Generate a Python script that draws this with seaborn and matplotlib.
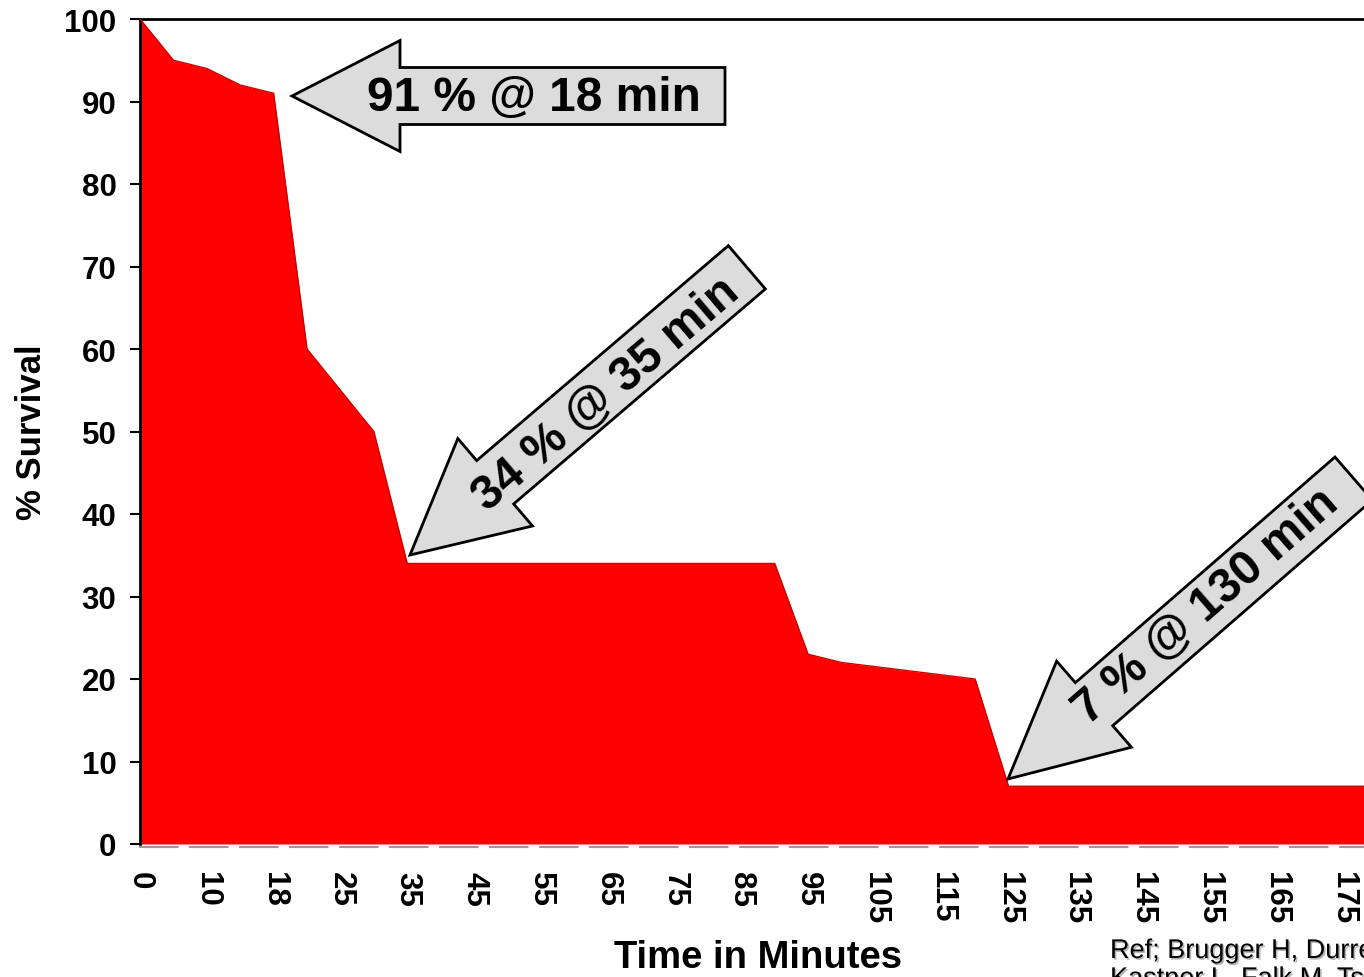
import numpy as np
import pandas as pd
import matplotlib
matplotlib.use("Agg")
import matplotlib.pyplot as plt
import matplotlib.patheffects as pe
from matplotlib.patches import Polygon
import seaborn as sns

# ---------------------------------------------- data ---------------------------------------------- #
time_minutes = [0, 5, 10, 15, 18, 20, 25, 30, 35, 40, 45, 50, 55, 60, 65, 70, 75, 80, 85, 90,
                95, 100, 105, 110, 115, 120, 125, 130, 135, 140, 145, 150, 155, 160, 165, 170,
                175, 180]
survival_pct = [100, 95, 94, 92, 91, 60, 55, 50, 34, 34, 34, 34, 34, 34, 34, 34, 34, 34, 34, 34,
                23, 22, 21.5, 21, 20.5, 20, 7, 7, 7, 7, 7, 7, 7, 7, 7, 7,
                7, 7]
callout_texts = ["91 % @ 18 min", "34 % @ 35 min", "7 % @ 130 min"]
ref_text = "Ref; Brugger H, Durrer B, Adler-\nKastner L, Falk M, Tschirky F."

df = pd.DataFrame({"pos": np.arange(len(time_minutes)), "minutes": time_minutes, "survival": survival_pct})

# ---------------------------------------------- plot ---------------------------------------------- #
sns.set_style("white")
plt.rcParams["font.family"] = ["Liberation Sans", "DejaVu Sans"]
plt.rcParams["text.color"] = "black"
plt.rcParams["axes.labelcolor"] = "black"
plt.rcParams["xtick.color"] = "black"
plt.rcParams["ytick.color"] = "black"

W, H = 1364, 978
fig = plt.figure(figsize=(W / 100, H / 100), dpi=100)
# axes runs a little past the right edge of the picture, like the cropped original
ax = fig.add_axes([140 / W, 1 - 845 / H, 1236 / W, 825 / H])

# spines first: set_position resets the ticks, so do it before styling tick labels
for side in ["left", "top"]:
    ax.spines[side].set_color("black")
    ax.spines[side].set_linewidth(2)
ax.spines["right"].set_visible(False)
ax.spines["bottom"].set_color("#9A9A9A")
ax.spines["bottom"].set_linewidth(1.5)
ax.spines["bottom"].set_linestyle((0, (18, 6)))
ax.spines["bottom"].set_position(("outward", 2.5))

ax.fill_between(df["pos"], df["survival"], 0, color="#FF0000", linewidth=0, zorder=2)
sns.lineplot(data=df, x="pos", y="survival", color="#D00000", linewidth=1.0, ax=ax, zorder=3)

ax.set_xlim(0, len(time_minutes) - 1)
ax.set_ylim(0, 100)
ax.set_yticks(range(0, 101, 10))
ax.set_xticks(list(df["pos"][::2]), [str(m) for m in time_minutes[::2]])
ax.tick_params(axis="x", length=0, pad=17)
ax.tick_params(axis="y", left=True, length=7, width=1.5, color="black", pad=10, direction="out")
for lab in ax.get_xticklabels():
    lab.set_fontsize(22.5)
    lab.set_fontweight("bold")
    lab.set_rotation(270)
    lab.set_color("black")
for lab in ax.get_yticklabels():
    lab.set_fontsize(22.5)
    lab.set_fontweight("bold")
    lab.set_color("black")

ax.set_xlabel("Time in Minutes", fontsize=27.5, fontweight="bold", color="black")
ax.xaxis.set_label_coords(0.5, -0.115)
ax.set_ylabel("% Survival", fontsize=25, fontweight="bold", labelpad=12, color="black")


# ------------------------------------------ callout arrows ---------------------------------------- #
def to_fig(x, y):
    return (x / W, 1 - y / H)


def arrow_shape(tip, angle, length, body_w, head_w, head_len):
    a = np.deg2rad(angle)
    u = np.array([np.cos(a), -np.sin(a)])  # along the arrow, in pixel coords (y down)
    v = np.array([np.sin(a), np.cos(a)])
    tip = np.array(tip, dtype=float)
    local = [(0, 0), (head_len, -head_w / 2), (head_len, -body_w / 2), (length, -body_w / 2),
             (length, body_w / 2), (head_len, body_w / 2), (head_len, head_w / 2)]
    return [to_fig(*(tip + s * u + t * v)) for s, t in local]


arrows = [
    dict(tip=(292, 97), angle=0, length=433, head_w=111, head_len=108, text_at=(534, 99)),
    dict(tip=(410, 556), angle=40.5, length=443, head_w=115, head_len=112, text_at=(606, 395)),
    dict(tip=(1008, 780), angle=41, length=458, head_w=114, head_len=114, text_at=(1206, 607)),
]
for spec, label in zip(arrows, callout_texts):
    pts = arrow_shape(spec["tip"], spec["angle"], spec["length"], 57, spec["head_w"], spec["head_len"])
    fig.patches.append(Polygon(pts, closed=True, transform=fig.transFigure, facecolor="#DCDCDC",
                               edgecolor="black", linewidth=2, joinstyle="miter", zorder=5))
    tx, ty = to_fig(*spec["text_at"])
    fig.text(tx, ty, label, fontsize=34.5, fontweight="bold", rotation=spec["angle"], color="black",
             rotation_mode="anchor", ha="center", va="center", zorder=6)

# the reference citation runs off the right edge of the original picture
fig.text(1110 / W, 1 - 939 / H, ref_text, fontsize=19.5, ha="left", va="top", linespacing=1.1,
         color="black",
         path_effects=[pe.SimplePatchShadow(offset=(1.2, -1.2), shadow_rgbFace="#888888", alpha=0.6),
                       pe.Normal()])

fig.savefig("out.png", dpi=100)
